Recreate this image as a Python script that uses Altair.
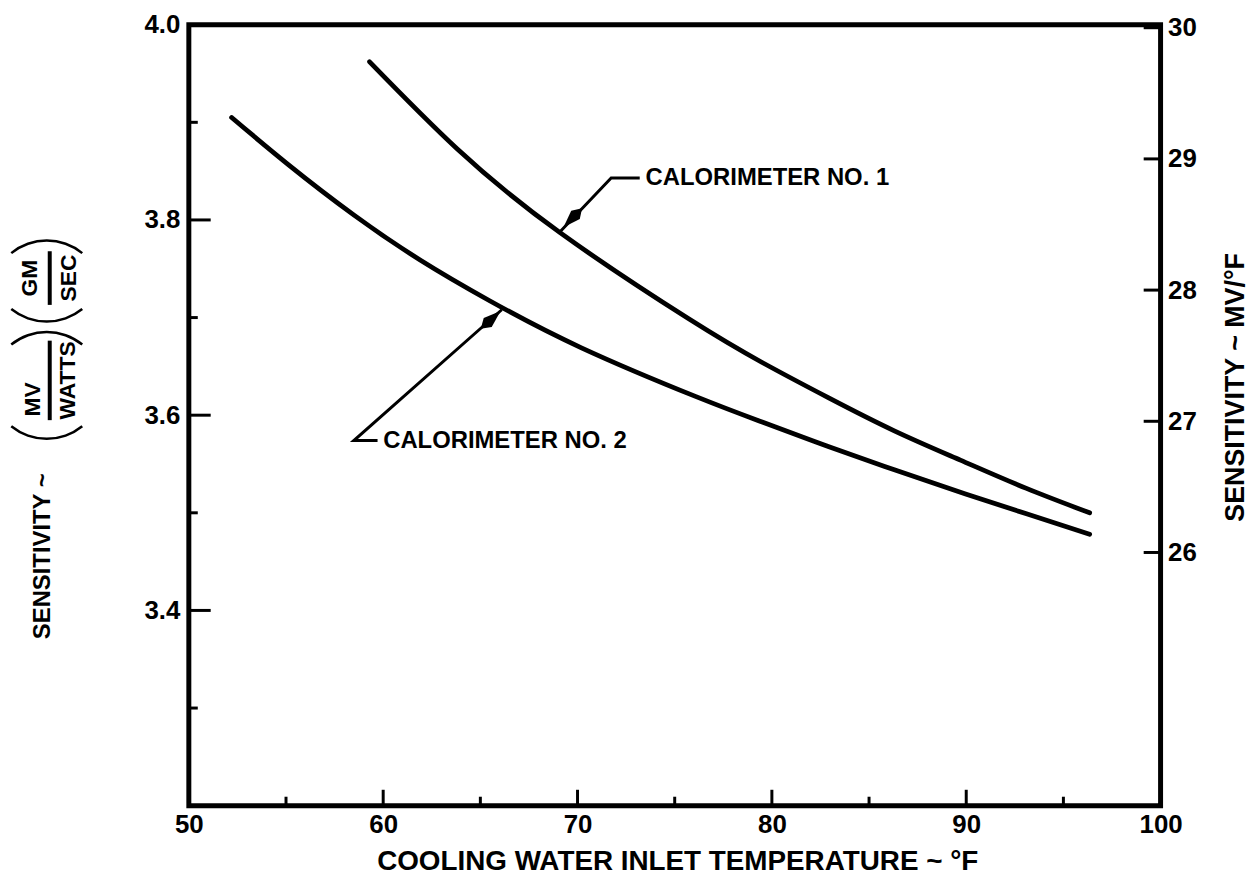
import math
import altair as alt
import pandas as pd

# ---------------- data ----------------
cal1_x = [59.3, 63.8, 69.1, 75.7, 79.5, 82.9, 86.3, 89.7, 93.1, 96.35]
cal1_y = [3.962, 3.873, 3.787, 3.699, 3.654, 3.618, 3.584, 3.554, 3.525, 3.500]
cal2_x = [52.2, 55.1, 58.5, 61.9, 65.5, 70.2, 76.1, 79.5, 82.9, 86.3, 89.7, 93.1, 96.35]
cal2_y = [3.905, 3.857, 3.805, 3.759, 3.717, 3.669, 3.619, 3.593, 3.568, 3.544, 3.521, 3.499, 3.478]
series_names = ["CALORIMETER NO. 1", "CALORIMETER NO. 2"]

x_labels = [50, 60, 70, 80, 90, 100]
x_major = [60, 70, 80, 90]
x_minor = [55, 65, 75, 85, 95]
left_labels = [3.4, 3.6, 3.8, 4.0]
left_major = [3.4, 3.6, 3.8]
left_minor = [3.3, 3.5, 3.7, 3.9]
right_labels = [26, 27, 28, 29, 30]

x_domain = [50, 100]
left_domain = [3.2, 4.0]
right_domain = [24.07, 30.023]

# annotation leaders (curve point, elbow, end of horizontal)
lead1_x = [69.1, 71.73, 73.2]
lead1_y = [3.788, 3.843, 3.843]
lead2_x = [66.1, 58.49, 59.71]
lead2_y = [3.708, 3.574, 3.574]
label_x = [73.5, 60.0]
label_y = [3.843, 3.574]
arrow1 = [69.84, 3.804]
arrow2 = [65.44, 3.696]

x_title = "COOLING WATER INLET TEMPERATURE ~ °F"
left_title_parts = ["SENSITIVITY ~", "MV", "WATTS", "GM", "SEC"]
right_title = "SENSITIVITY ~ MV/°F"

# ---------------- layout ----------------
W, H = 978, 786
FONT = "Liberation Sans"
INK = "black"
LBL = 26

xs = alt.Scale(domain=x_domain, nice=False, zero=False)
ys = alt.Scale(domain=left_domain, nice=False, zero=False)
yr = alt.Scale(domain=right_domain, nice=False, zero=False)

X_AX = alt.Axis(values=x_labels, format="d", ticks=False, domain=False, grid=False,
                labelFont=FONT, labelFontSize=LBL, labelFontWeight="bold", labelColor=INK,
                labelPadding=6, labelFlush=False, labelOverlap=False, title=None)
Y_AX = alt.Axis(values=left_labels, format=".1f", ticks=False, domain=False, grid=False,
                labelFont=FONT, labelFontSize=LBL, labelFontWeight="bold", labelColor=INK,
                labelPadding=9, labelFlush=False, labelOverlap=False, title=None)

def X(f):
    return alt.X(f, scale=xs, axis=X_AX)

def Y(f):
    return alt.Y(f, scale=ys, axis=Y_AX)

curve_df = pd.DataFrame({
    "x": cal1_x + cal2_x,
    "y": cal1_y + cal2_y,
    "series": [series_names[0]] * len(cal1_x) + [series_names[1]] * len(cal2_x),
})

curves = alt.Chart(curve_df).mark_line(
    color=INK, strokeWidth=4.8, strokeCap="round", interpolate="natural"
).encode(x=X("x:Q"), y=Y("y:Q"), detail="series:N")

def yticks(vals, length):
    return alt.Chart(pd.DataFrame({"y": vals})).mark_rule(color=INK, strokeWidth=3).encode(
        y=Y("y:Q"), x=alt.value(0), x2=alt.value(length))

def xticks(vals, length):
    return alt.Chart(pd.DataFrame({"x": vals})).mark_rule(color=INK, strokeWidth=3).encode(
        x=X("x:Q"), y=alt.value(H), y2=alt.value(H - length))

lead_df = pd.DataFrame({
    "x": lead1_x + lead2_x,
    "y": lead1_y + lead2_y,
    "g": ["a"] * 3 + ["b"] * 3,
    "o": [0, 1, 2, 0, 1, 2],
})
leaders = alt.Chart(lead_df).mark_line(color=INK, strokeWidth=3).encode(
    x=X("x:Q"), y=Y("y:Q"), detail="g:N", order="o:Q")

ARROW = "M0,-1L0.38,0.1L0,0.7L-0.38,0.1Z"
def arrow(pt, ang):
    return alt.Chart(pd.DataFrame({"x": [pt[0]], "y": [pt[1]]})).mark_point(
        shape=ARROW, filled=True, color=INK, opacity=1, size=1000, angle=ang, strokeWidth=0
    ).encode(x=X("x:Q"), y=Y("y:Q"))

ann = alt.Chart(pd.DataFrame({"x": label_x, "y": label_y, "t": series_names})).mark_text(
    align="left", baseline="middle", font=FONT, fontSize=24, fontWeight="bold", color=INK
).encode(x=X("x:Q"), y=Y("y:Q"), text="t:N")

def txt(t, px, py, size=21, angle=0, weight="bold"):
    return alt.Chart(pd.DataFrame({"t": [t]})).mark_text(
        align="center", baseline="middle", font=FONT, fontSize=size, fontWeight=weight,
        color=INK, angle=angle
    ).encode(text="t:N", x=alt.value(px), y=alt.value(py))

def bar(px, py1, py2):
    return alt.Chart(pd.DataFrame({"t": [0]})).mark_rule(color=INK, strokeWidth=4).encode(
        x=alt.value(px), y=alt.value(py1), y2=alt.value(py2))

R_OUT, R_IN, HALF = 58.0, 55.5, math.radians(39)

def paren(px, py_edge, opening_up):
    # thin circular arc standing in for a rotated parenthesis
    if opening_up:
        cy, t1, t2 = py_edge - R_OUT, math.pi - HALF, math.pi + HALF
    else:
        cy, t1, t2 = py_edge + R_OUT, 2 * math.pi - HALF, 2 * math.pi + HALF
    return alt.Chart(pd.DataFrame({"t": [0]})).mark_arc(
        color=INK, theta=t1, theta2=t2, radius=R_OUT, radius2=R_IN
    ).encode(x=alt.value(px), y=alt.value(cy))

titles = [
    txt(x_title, W / 2 + 3, H + 57, size=28),
    txt(left_title_parts[0], -147, 535, size=24, angle=270),
    txt(left_title_parts[1], -157, 377, size=23, angle=270),
    txt(left_title_parts[2], -122, 358, size=23, angle=270),
    bar(-140, 318, 398),
    paren(-143, 418, True),
    paren(-143, 308, False),
    txt(left_title_parts[3], -160, 255, size=23, angle=270),
    txt(left_title_parts[4], -121, 255, size=23, angle=270),
    bar(-140, 228, 282),
    paren(-143, 300, True),
    paren(-143, 216, False),
    txt(right_title, W + 76, 365, size=27, angle=270),
]

left = alt.layer(
    curves,
    yticks(left_major, 22), yticks(left_minor, 9),
    xticks(x_major, 16), xticks(x_minor, 9),
    leaders, arrow(arrow1, 224), arrow(arrow2, 48), ann,
    *titles,
)

right = alt.Chart(pd.DataFrame({"v": right_labels})).mark_rule(color=INK, strokeWidth=3).encode(
    y=alt.Y("v:Q", scale=yr, axis=alt.Axis(
        orient="right", values=right_labels, format="d", ticks=False, domain=False, grid=False,
        labelFont=FONT, labelFontSize=LBL, labelFontWeight="bold", labelColor=INK,
        labelPadding=7, labelFlush=False, labelOverlap=False, title=None)),
    x=alt.value(W - 17), x2=alt.value(W),
)

chart = alt.layer(left, right).resolve_scale(y="independent").properties(
    width=W, height=H,
    autosize=alt.AutoSizeParams(type="none"),
    padding={"left": 182, "top": 14, "right": 90, "bottom": 72},
    background="white",
).configure_view(stroke=INK, strokeWidth=5)

chart.save("out.html", embed_options={"renderer": "svg", "actions": False})
